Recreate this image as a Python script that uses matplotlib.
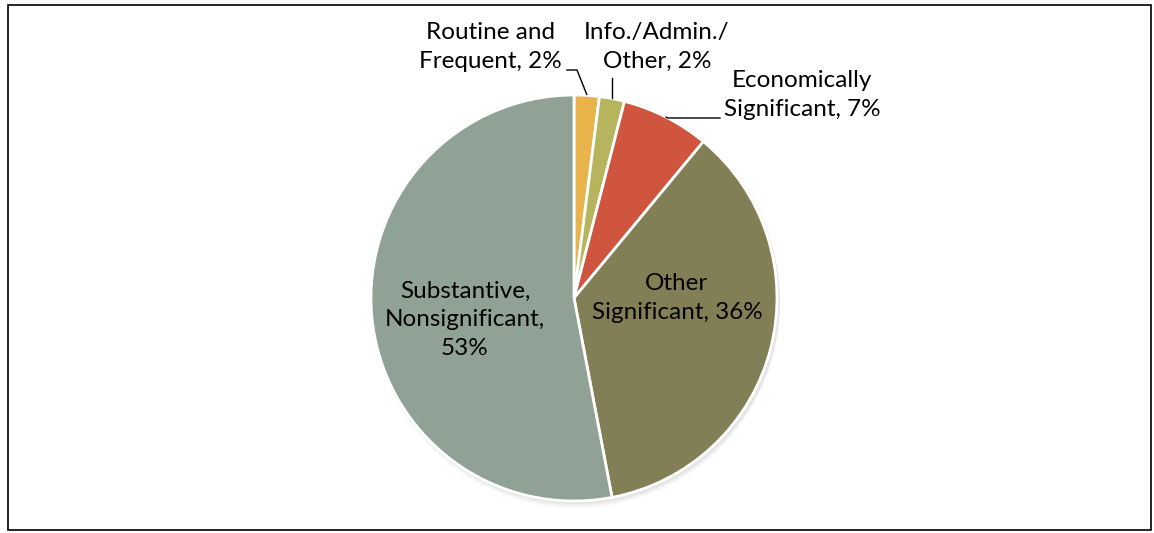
import numpy as np
import matplotlib
matplotlib.use('Agg')
import matplotlib.pyplot as plt
from matplotlib.patches import Circle, Rectangle

plt.rcParams['font.family'] = ['Lato', 'DejaVu Sans']

categories = ['Routine and\nFrequent', 'Info./Admin./\nOther', 'Economically\nSignificant',
              'Other\nSignificant', 'Substantive,\nNonsignificant,\n']
values = [2, 2, 7, 36, 53]
colors = ['#E8B34B', '#B6B45C', '#D0553E', '#827F56', '#90A195']

W, H = 1154, 533
fig = plt.figure(figsize=(W / 100, H / 100), dpi=100)
ax = fig.add_axes([0, 0, 1, 1])

cx, cy, r = 574, H - 298, 203

# soft shadow
for k, a in [(6, 0.05), (4, 0.07), (2, 0.09)]:
    ax.add_patch(Circle((cx + 2, cy - k), r + 1, color='#808080', alpha=a, lw=0, zorder=0))

wedges, _ = ax.pie(values, colors=colors, startangle=90, counterclock=False,
                   center=(cx, cy), radius=r, frame=True,
                   wedgeprops=dict(edgecolor='white', linewidth=2))
ax.set_xlim(0, W)
ax.set_ylim(0, H)
ax.set_aspect('equal')
ax.axis('off')

def edge_point(w):
    th = np.deg2rad((w.theta1 + w.theta2) / 2)
    return cx + r * np.cos(th), cy + r * np.sin(th)

fs = 17.5
ls = 1.45
# outside labels
ax.text(490, H - 47, f'{categories[0]}, {values[0]}%', ha='center', va='center', fontsize=fs, linespacing=ls)
ax.text(657, H - 47, f'{categories[1]}, {values[1]}%', ha='center', va='center', fontsize=fs, linespacing=ls)
ax.text(802, H - 95, f'{categories[2]}, {values[2]}%', ha='center', va='center', fontsize=fs, linespacing=ls)

# inside labels
ax.text(677, H - 298, f'{categories[3]}, {values[3]}%', ha='center', va='center', fontsize=fs, linespacing=ls)
ax.text(465, H - 320, f'{categories[4]}{values[4]}%', ha='center', va='center', fontsize=fs, linespacing=ls)

# leader lines
x0, y0 = edge_point(wedges[0])
ax.plot([567, 577, x0], [H - 70, H - 70, y0 + 1], color='black', lw=1)
x1, y1 = edge_point(wedges[1])
ax.plot([x1, x1], [H - 78, y1 + 1], color='black', lw=1)
x2, y2 = edge_point(wedges[2])
ax.plot([720, 668, x2], [H - 118, H - 118, y2], color='black', lw=1)

# frame
ax.add_patch(Rectangle((8, 3), W - 11, H - 8, fill=False, edgecolor='black', lw=1.2))

fig.savefig('out.png', dpi=100)
